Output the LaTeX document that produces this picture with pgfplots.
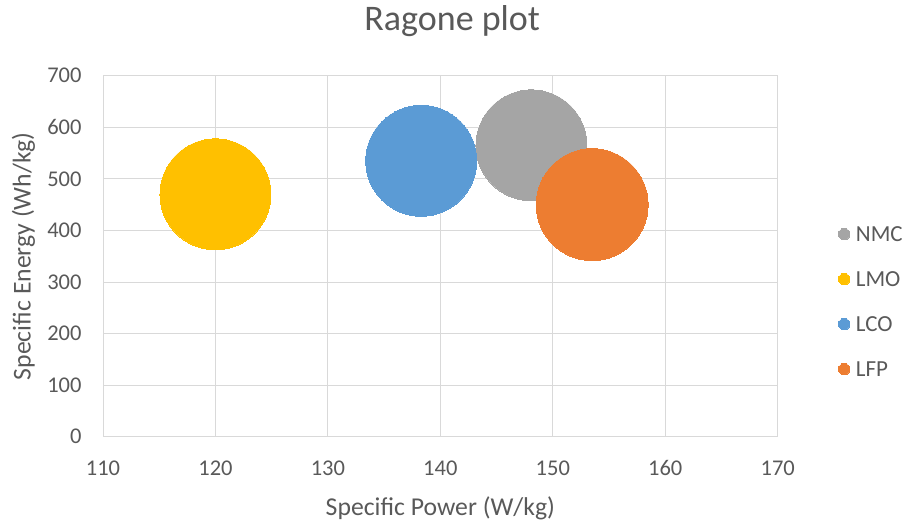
\documentclass[border=0pt]{standalone}
\usepackage{pgfplots}
\pgfplotsset{compat=1.18}
\usepackage{fontspec}
\setmainfont{Carlito}
\definecolor{txt}{HTML}{595959}
\definecolor{gridc}{HTML}{D9D9D9}
\definecolor{nmc}{HTML}{A5A5A5}
\definecolor{lmo}{HTML}{FFC000}
\definecolor{lco}{HTML}{5B9BD5}
\definecolor{lfp}{HTML}{ED7D31}
\begin{document}
\begin{tikzpicture}
\useasboundingbox (0,0) rectangle (909pt,524pt);
\begin{axis}[
  at={(103pt,87.3pt)}, anchor=south west,
  scale only axis, width=674.7pt, height=361pt,
  xmin=110, xmax=170, ymin=0, ymax=700,
  xtick={110,120,...,170}, ytick={0,100,...,700},
  major tick length=0pt,
  grid=major,
  major grid style={draw=gridc, line width=0.9pt},
  axis line style={draw=gridc, line width=0.9pt},
  /pgf/number format/assume math mode=true,
  ticklabel style={font=\fontsize{22.5}{26}\selectfont, text=txt, inner sep=0pt},
  xticklabel style={anchor=base, yshift=-39pt},
  yticklabel style={anchor=east, xshift=-21.3pt},
  xlabel={Specific Power (W/kg)},
  ylabel={Specific Energy (Wh/kg)},
  xlabel style={at={(axis description cs:0.5,-0.2169)}, anchor=base, inner sep=0pt, font=\fontsize{25.7}{30}\selectfont, text=txt},
  ylabel style={at={(axis description cs:-0.10716,0.5)}, anchor=base, inner sep=0pt, rotate=0, font=\fontsize{25.7}{30}\selectfont, text=txt},
  title={Ragone plot},
  title style={at={(axis description cs:0.5176,1.108)}, anchor=base, inner sep=0pt, font=\fontsize{36}{40}\selectfont, text=txt},
  legend style={at={(axis description cs:1.0898,0.374)}, anchor=west, draw=none, fill=none, inner sep=0pt,
    nodes={inner sep=0pt, text height=15pt, text depth=0pt, text=txt, font=\fontsize{23}{27}\selectfont},
    row sep=30pt, column sep=6pt},
  legend cell align=left,
  legend image code/.code={\fill (5.7pt,0pt) circle (5.7pt);},
]
\addplot[only marks, mark=*, mark size=55.5pt, color=nmc, line width=0pt] coordinates {(148.1,565)};
\addlegendentry{NMC}
\addplot[only marks, mark=*, mark size=55.5pt, color=lmo, line width=0pt] coordinates {(120,470)};
\addlegendentry{LMO}
\addplot[only marks, mark=*, mark size=55.5pt, color=lco, line width=0pt] coordinates {(138.3,535)};
\addlegendentry{LCO}
\addplot[only marks, mark=*, mark size=56pt, color=lfp, line width=0pt] coordinates {(153.5,450)};
\addlegendentry{LFP}
\end{axis}
\end{tikzpicture}
\end{document}
